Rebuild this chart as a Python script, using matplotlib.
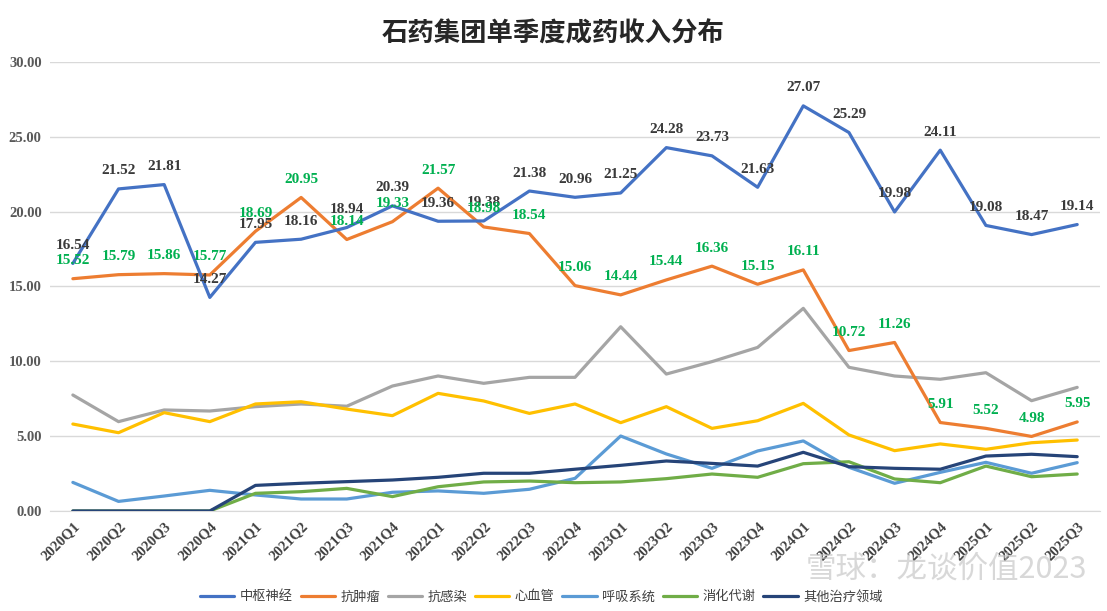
import matplotlib
matplotlib.use("Agg")
import matplotlib.pyplot as plt

quarters = ["2020Q1", "2020Q2", "2020Q3", "2020Q4", "2021Q1", "2021Q2", "2021Q3", "2021Q4",
            "2022Q1", "2022Q2", "2022Q3", "2022Q4", "2023Q1", "2023Q2", "2023Q3", "2023Q4",
            "2024Q1", "2024Q2", "2024Q3", "2024Q4", "2025Q1", "2025Q2", "2025Q3"]

cns = [16.54, 21.52, 21.81, 14.27, 17.95, 18.16, 18.94, 20.39, 19.36, 19.38, 21.38, 20.96,
       21.25, 24.28, 23.73, 21.63, 27.07, 25.29, 19.98, 24.11, 19.08, 18.47, 19.14]
oncology = [15.52, 15.79, 15.86, 15.77, 18.69, 20.95, 18.14, 19.33, 21.57, 18.98, 18.54, 15.06,
            14.44, 15.44, 16.36, 15.15, 16.11, 10.72, 11.26, 5.91, 5.52, 4.98, 5.95]
anti_infective = [7.75, 5.97, 6.75, 6.68, 6.97, 7.15, 7.00, 8.35, 9.02, 8.53, 8.93, 8.93,
                  12.31, 9.15, 9.98, 10.93, 13.54, 9.60, 9.02, 8.80, 9.24, 7.37, 8.26]
cardio = [5.81, 5.23, 6.57, 5.97, 7.15, 7.30, 6.81, 6.37, 7.86, 7.35, 6.52, 7.15,
          5.90, 6.97, 5.52, 6.03, 7.19, 5.08, 4.03, 4.48, 4.12, 4.56, 4.74]
respiratory = [1.91, 0.64, 1.00, 1.38, 1.07, 0.80, 0.80, 1.25, 1.34, 1.18, 1.45, 2.18,
               5.01, 3.81, 2.85, 4.01, 4.68, 2.92, 1.85, 2.58, 3.25, 2.52, 3.23]
digestive = [0.0, 0.0, 0.0, 0.0, 1.18, 1.29, 1.51, 0.96, 1.62, 1.94, 2.00, 1.89,
             1.94, 2.16, 2.47, 2.25, 3.16, 3.29, 2.14, 1.89, 3.00, 2.29, 2.47]
others = [0.0, 0.0, 0.0, 0.0, 1.71, 1.85, 1.96, 2.07, 2.25, 2.52, 2.52, 2.79,
          3.05, 3.34, 3.18, 3.00, 3.92, 2.96, 2.85, 2.79, 3.67, 3.79, 3.63]

names = ["中枢神经", "抗肿瘤", "抗感染", "心血管", "呼吸系统", "消化代谢", "其他治疗领域"]
series = [cns, oncology, anti_infective, cardio, respiratory, digestive, others]
colors = ["#4472C4", "#ED7D31", "#A5A5A5", "#FFC000", "#5B9BD5", "#70AD47", "#264478"]
yticks = [0, 5, 10, 15, 20, 25, 30]

plt.rcParams['font.family'] = ['Liberation Serif', 'Noto Sans CJK SC', 'DejaVu Sans']

fig = plt.figure(figsize=(11.07, 6.11), dpi=100)
ax = fig.add_axes([0.0452, 0.1637, 0.9485, 0.7348])

x = list(range(len(quarters)))
order = [2, 3, 4, 5, 6, 1, 0]
for i in order:
    ax.plot(x, series[i], color=colors[i], lw=2.3, label=names[i], zorder=3 + (i == 0) + (i == 1),
            solid_capstyle='round', solid_joinstyle='round')

for xi, v in zip(x, cns):
    ax.annotate(f"{v:.2f}", (xi, v), xytext=(0, 18), textcoords='offset pixels',
                ha='center', va='center', fontsize=11, fontweight='bold', color='#3A3A3A',
                family='Liberation Serif', zorder=6)
for xi, v in zip(x, oncology):
    ax.annotate(f"{v:.2f}", (xi, v), xytext=(0, 18), textcoords='offset pixels',
                ha='center', va='center', fontsize=11, fontweight='bold', color='#00B050',
                family='Liberation Serif', zorder=6)

ax.set_xlim(-0.5, len(quarters) - 0.5)
ax.set_ylim(0, 30)
ax.set_yticks(yticks)
ax.set_yticklabels([f"{t:.2f}" for t in yticks], fontsize=10.5, fontweight='bold', color='#595959',
                   family='Liberation Serif')
ax.set_xticks(x)
ax.set_xticklabels(quarters, rotation=45, ha='right', rotation_mode='anchor', fontsize=10.5,
                   fontweight='bold', color='#404040', family='Liberation Serif')
ax.tick_params(axis='both', length=0, pad=6)
ax.grid(axis='y', color='#D9D9D9', lw=1)
ax.set_axisbelow(True)
for s in ['top', 'right', 'left']:
    ax.spines[s].set_visible(False)
ax.spines['bottom'].set_color('#D9D9D9')

fig.text(0.5, 0.944, "石药集团单季度成药收入分布", ha='center', va='center', fontsize=19,
         fontweight='bold', color='#262626', family=['Noto Sans CJK SC', 'DejaVu Sans'])

handles, labels = ax.get_legend_handles_labels()
hmap = dict(zip(labels, handles))
leg = fig.legend([hmap[n] for n in names], names, loc='center', bbox_to_anchor=(0.489, 0.023),
                 ncol=7, frameon=False, handlelength=2.6, handletextpad=0.4,
                 columnspacing=0.6, prop={'family': ['Noto Sans CJK SC', 'DejaVu Sans'], 'size': 9.5})
for t in leg.get_texts():
    t.set_color('#404040')

fig.text(0.855, 0.068, "雪球：龙谈价值2023", ha='center', va='center', fontsize=22,
         color='#BFBFBF', alpha=0.6, family=['Noto Sans CJK SC', 'DejaVu Sans'], zorder=10)

fig.savefig("out.png", dpi=100)
